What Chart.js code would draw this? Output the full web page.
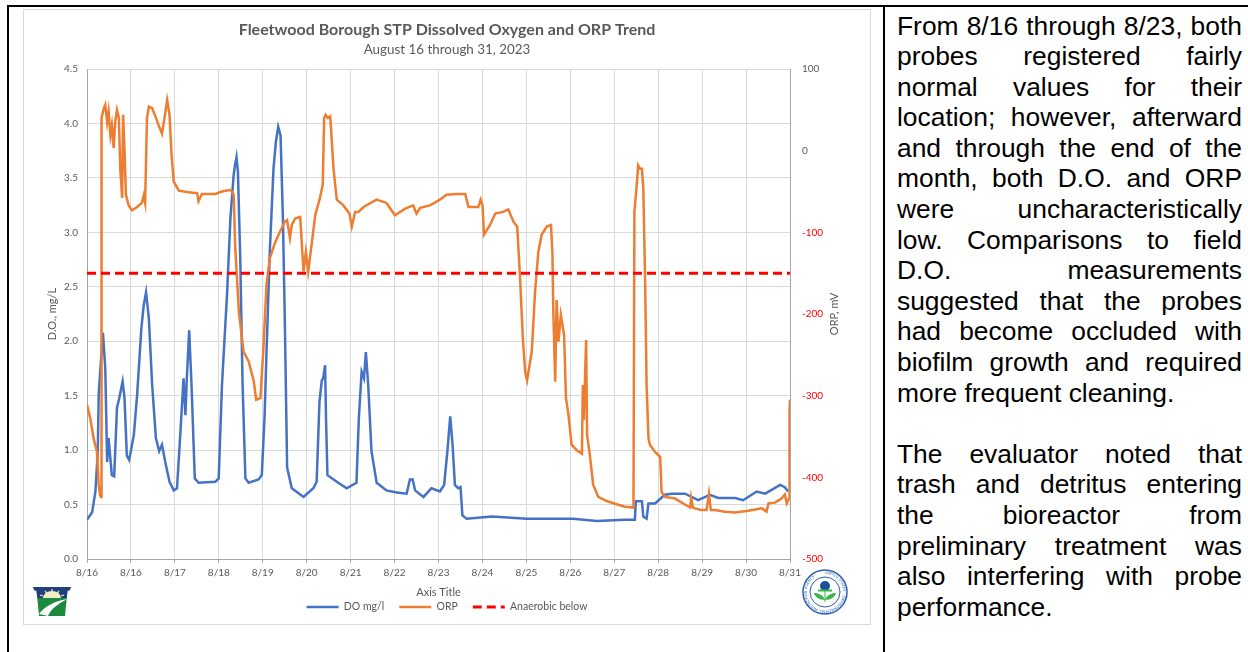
<!DOCTYPE html>
<html>
<head>
<meta charset="utf-8">
<title>Fleetwood Borough STP Dissolved Oxygen and ORP Trend</title>
<script src="https://cdn.jsdelivr.net/npm/chart.js@4.4.1/dist/chart.umd.min.js"></script>
<style>
  html, body { margin: 0; padding: 0; background: #fff; }
  body { width: 1248px; height: 652px; position: relative; overflow: hidden; }
  .rule { position: absolute; background: #000; }
  #chart-frame { position: absolute; left: 23px; top: 9px; width: 848px; height: 616px; box-sizing: border-box; border: 1px solid #d9d9d9; }
  #chart-wrap { position: absolute; left: 23px; top: 9px; width: 848px; height: 616px; }
  .logo { position: absolute; }
  #notes { position: absolute; left: 897px; top: 10.5px; width: 345px; font-family: 'Liberation Sans', Arial, sans-serif; font-size: 26.4px; line-height: 30.6px; color: #000; }
  #notes div { text-align: justify; text-align-last: justify; }
  #notes div.end { text-align-last: left; }
  #notes div.gap { height: 30.6px; }
</style>
</head>
<body>
<div class="rule" style="left:7px;top:5px;width:1241px;height:2px"></div>
<div class="rule" style="left:7px;top:5px;width:2px;height:647px"></div>
<div class="rule" style="left:883px;top:5px;width:2px;height:647px"></div>

<div id="chart-frame"></div>
<div id="chart-wrap"><canvas id="chart-do"></canvas></div>

<!-- PA DEP keystone -->
<svg class="logo" style="left:33px;top:587px" width="38" height="29" viewBox="0 0 38 29">
  <defs><clipPath id="ks"><path d="M0 0H38L36.5 3.5H34.5L32 29H6L3.5 3.5H1.5Z"/></clipPath></defs>
  <g clip-path="url(#ks)">
    <rect width="38" height="29" fill="#1b8a3c"/>
    <rect width="38" height="11" fill="#1f3f7d"/>
    <path d="M10 11 A9 7 0 0 1 28 11 Z" fill="#f3efc4"/>
    <path d="M19 2V6M12 4L14.5 7M26 4L23.5 7M7 8L10 9M31 8L28 9" stroke="#f3efc4" stroke-width="1.2"/>
    <path d="M6 27C11 20 21 14 34 12C25 17 18 22 15 29Z" fill="#fff"/>
  </g>
</svg>

<!-- EPA seal -->
<svg class="logo" style="left:802px;top:569px" width="46" height="46" viewBox="0 0 46 46">
  <circle cx="23" cy="23" r="22" fill="#fff" stroke="#2b5fae" stroke-width="1.5"/>
  <circle cx="23" cy="23" r="15" fill="#fff" stroke="#2b5fae" stroke-width="1"/>
  <path id="ring" d="M23 4.8a18.2 18.2 0 1 1-0.01 0" fill="none"/>
  <text font-size="3.6" fill="#2b5fae" font-family="DejaVu Sans"><textPath href="#ring">UNITED STATES · ENVIRONMENTAL PROTECTION AGENCY ·</textPath></text>
  <circle cx="23" cy="17" r="5" fill="#1e4f9c"/>
  <rect x="16" y="20.5" width="14" height="2" fill="#3ab54a"/>
  <path d="M23 31C17 31 13 28 12 24C17 24 21 26 23 31Z" fill="#3ab54a"/>
  <path d="M23 31C29 31 33 28 34 24C29 24 25 26 23 31Z" fill="#3ab54a"/>
  <path d="M23 22V33" stroke="#3ab54a" stroke-width="1"/>
</svg>

<div id="notes">
  <div>From 8/16 through 8/23, both</div>
  <div>probes registered fairly</div>
  <div>normal values for their</div>
  <div>location; however, afterward</div>
  <div>and through the end of the</div>
  <div>month, both D.O. and ORP</div>
  <div>were uncharacteristically</div>
  <div>low.  Comparisons to field</div>
  <div>D.O. measurements</div>
  <div>suggested that the probes</div>
  <div>had become occluded with</div>
  <div>biofilm growth and required</div>
  <div class="end">more frequent cleaning.</div>
  <div class="gap"></div>
  <div>The evaluator noted that</div>
  <div>trash and detritus entering</div>
  <div>the bioreactor from</div>
  <div>preliminary treatment was</div>
  <div>also interfering with probe</div>
  <div class="end">performance.</div>
</div>

<script>
  // x values are days after 8/16 00:00
  const xTickLabels = ['8/16', '8/16', '8/17', '8/18', '8/19', '8/20', '8/21', '8/22', '8/23',
    '8/24', '8/25', '8/26', '8/27', '8/28', '8/29', '8/30', '8/31'];

  const doDays = [0, 0.11, 0.18, 0.23, 0.25, 0.34, 0.39, 0.43, 0.46, 0.53,
    0.58, 0.64, 0.69, 0.76, 0.80, 0.85, 0.90, 1.00, 1.07, 1.16,
    1.21, 1.26, 1.32, 1.39, 1.47, 1.54, 1.60, 1.67, 1.76, 1.85,
    1.92, 1.99, 2.06, 2.10, 2.13, 2.18, 2.23, 2.30, 2.38, 2.74,
    2.81, 2.88, 2.99, 3.06, 3.13, 3.16, 3.19, 3.22, 3.27, 3.32,
    3.38, 3.45, 3.66, 3.73, 3.79, 3.83, 3.90, 3.98, 4.03, 4.08,
    4.13, 4.18, 4.22, 4.27, 4.37, 4.62, 4.83, 4.90, 4.96, 5.01,
    5.04, 5.08, 5.10, 5.13, 5.33, 5.54, 5.75, 5.80, 5.86, 5.91,
    5.95, 6.00, 6.07, 6.18, 6.39, 6.61, 6.82, 6.89, 6.95, 7.00,
    7.18, 7.35, 7.53, 7.62, 7.69, 7.75, 7.80, 7.85, 7.92, 7.97,
    8.01, 8.10, 8.64, 9.38, 10.37, 10.88, 11.48, 11.69, 11.71, 11.84,
    11.87, 11.94, 11.98, 12.12, 12.33, 12.48, 12.76, 13.04, 13.29, 13.47,
    13.83, 14.00, 14.29, 14.47, 14.79, 14.89, 14.96];
  const doValues = [0.36, 0.43, 0.62, 0.99, 1.52, 2.08, 1.75, 0.89, 1.11, 0.77,
    0.76, 1.39, 1.48, 1.63, 1.48, 0.95, 0.91, 1.14, 1.51, 2.12,
    2.33, 2.45, 2.21, 1.60, 1.11, 0.99, 1.05, 0.89, 0.71, 0.63,
    0.65, 1.14, 1.66, 1.32, 1.66, 2.10, 1.60, 0.74, 0.70, 0.71,
    0.74, 1.60, 2.45, 3.13, 3.53, 3.62, 3.69, 3.56, 2.76, 1.60,
    0.74, 0.70, 0.73, 0.77, 1.32, 1.90, 2.82, 3.59, 3.83, 3.97,
    3.89, 3.13, 2.21, 0.84, 0.65, 0.57, 0.65, 0.71, 1.44, 1.64,
    1.66, 1.78, 1.29, 0.77, 0.71, 0.65, 0.70, 1.29, 1.72, 1.66,
    1.90, 1.60, 0.99, 0.70, 0.63, 0.61, 0.60, 0.73, 0.73, 0.63,
    0.57, 0.65, 0.62, 0.68, 0.99, 1.31, 1.05, 0.68, 0.65, 0.66,
    0.40, 0.37, 0.39, 0.37, 0.37, 0.35, 0.36, 0.36, 0.53, 0.53,
    0.39, 0.37, 0.51, 0.51, 0.59, 0.60, 0.60, 0.54, 0.59, 0.56,
    0.56, 0.54, 0.62, 0.60, 0.68, 0.66, 0.62];

  const orpDays = [0.00, 0.07, 0.14, 0.21, 0.25, 0.28, 0.30, 0.31, 0.36, 0.39,
    0.43, 0.46, 0.50, 0.53, 0.57, 0.60, 0.64, 0.68, 0.71, 0.75,
    0.77, 0.80, 0.83, 0.89, 0.96, 1.07, 1.17, 1.21, 1.24, 1.28,
    1.32, 1.39, 1.46, 1.53, 1.60, 1.64, 1.71, 1.76, 1.80, 1.85,
    1.96, 2.17, 2.35, 2.38, 2.45, 2.74, 2.88, 3.06, 3.13, 3.16,
    3.24, 3.34, 3.45, 3.56, 3.61, 3.70, 3.76, 3.83, 3.90, 4.01,
    4.12, 4.22, 4.27, 4.33, 4.37, 4.44, 4.55, 4.58, 4.62, 4.67,
    4.72, 4.79, 4.87, 4.97, 5.03, 5.06, 5.09, 5.14, 5.19, 5.26,
    5.33, 5.47, 5.60, 5.65, 5.72, 5.79, 5.90, 6.18, 6.39, 6.57,
    6.79, 6.96, 7.03, 7.11, 7.32, 7.53, 7.67, 7.89, 8.07, 8.14,
    8.35, 8.40, 8.44, 8.47, 8.60, 8.71, 8.88, 8.99, 9.10, 9.18,
    9.24, 9.30, 9.35, 9.39, 9.49, 9.56, 9.63, 9.70, 9.81, 9.90,
    9.93, 9.95, 9.99, 10.02, 10.06, 10.11, 10.18, 10.22, 10.27, 10.34,
    10.45, 10.56, 10.58, 10.60, 10.65, 10.67, 10.73, 10.80, 10.91, 11.09,
    11.30, 11.48, 11.66, 11.68, 11.73, 11.76, 11.80, 11.84, 11.87, 11.91,
    11.94, 11.98, 12.01, 12.12, 12.23, 12.26, 12.33, 12.55, 12.72, 12.87,
    12.89, 12.93, 12.97, 13.10, 13.22, 13.27, 13.31, 13.40, 13.61, 13.83,
    14.11, 14.40, 14.50, 14.54, 14.68, 14.82, 14.89, 14.93, 14.98, 14.99,
    15.00];
  const orpValues = [-311, -328, -352, -368, -409, -422, -424, 40, 52, 56,
    35, 48, 19, 31, 3, 35, 50, 40, -22, -58,
    44, 1, -54, -67, -73, -69, -64, -55, -64, 40,
    54, 52, 42, 31, 21, 35, 62, 44, -1, -38,
    -49, -51, -52, -62, -53, -53, -50, -48, -54, -115,
    -197, -246, -258, -283, -305, -303, -246, -164, -132, -113,
    -99, -87, -85, -107, -91, -83, -81, -111, -148, -124,
    -148, -116, -79, -58, -42, 40, 44, 40, 42, -22,
    -60, -67, -77, -93, -75, -75, -69, -60, -64, -79,
    -71, -67, -77, -70, -67, -60, -54, -53, -53, -69,
    -69, -60, -67, -103, -91, -77, -75, -72, -87, -93,
    -156, -230, -271, -281, -246, -173, -124, -103, -93, -91,
    -124, -197, -283, -183, -234, -201, -226, -303, -322, -360,
    -367, -371, -287, -330, -232, -348, -373, -409, -424, -429,
    -433, -436, -437, -75, -42, -18, -22, -22, -46, -164,
    -287, -352, -360, -369, -375, -418, -424, -426, -432, -437,
    -425, -437, -438, -440, -440, -420, -440, -440, -442, -443,
    -441, -438, -442, -432, -431, -426, -421, -432, -426, -320,
    -305];

  const anaerobicDays = [0, 15];
  const anaerobicValues = [-150, -150];

  const toPoints = (xs, ys) => xs.map((x, i) => ({ x: x, y: ys[i] }));

  Chart.defaults.font.family = 'Lato';
  Chart.defaults.color = '#595959';

  // Excel draws the right axis title bottom-to-top, Chart.js does it the other way
  const rightAxisTitle = {
    id: 'rightAxisTitle',
    afterDraw(chart) {
      const s = chart.scales.y1;
      const c = chart.ctx;
      c.save();
      c.translate(s.right - 37, (s.top + s.bottom) / 2);
      c.rotate(-Math.PI / 2);
      c.font = '11px Lato';
      c.fillStyle = '#595959';
      c.textAlign = 'center';
      c.textBaseline = 'middle';
      c.fillText('ORP, mV', 0, 0);
      c.restore();
    }
  };

  // legend samples should look like the series lines (width + dash)
  const lineLegendLabels = (chart) =>
    Chart.defaults.plugins.legend.labels.generateLabels(chart).map((item) => {
      const ds = chart.data.datasets[item.datasetIndex];
      item.strokeStyle = ds.borderColor;
      item.lineWidth = ds.borderWidth;
      item.lineDash = ds.borderDash || [];
      return item;
    });

  const ctx = document.getElementById('chart-do').getContext('2d');
  new Chart(ctx, {
    type: 'line',
    data: {
      datasets: [{
        label: 'DO mg/l',
        data: toPoints(doDays, doValues),
        yAxisID: 'y',
        borderColor: '#4472c4',
        backgroundColor: '#4472c4',
        borderWidth: 2.5,
        pointRadius: 0,
        pointStyle: 'line',
        tension: 0,
        order: 3
      }, {
        label: 'ORP',
        data: toPoints(orpDays, orpValues),
        yAxisID: 'y1',
        borderColor: '#ed7d31',
        backgroundColor: '#ed7d31',
        borderWidth: 2.5,
        pointRadius: 0,
        pointStyle: 'line',
        tension: 0,
        order: 2
      }, {
        label: 'Anaerobic below',
        data: toPoints(anaerobicDays, anaerobicValues),
        yAxisID: 'y1',
        borderColor: '#ff0000',
        backgroundColor: '#ff0000',
        borderWidth: 3,
        borderDash: [9, 5],
        pointRadius: 0,
        pointStyle: 'line',
        order: 1
      }]
    },
    options: {
      responsive: true,
      maintainAspectRatio: false,
      animation: false,
      layout: { padding: { top: 0, right: 0, bottom: 2.75, left: 0 } },
      plugins: {
        title: {
          display: true,
          text: 'Fleetwood Borough STP Dissolved Oxygen and ORP Trend',
          color: '#595959',
          font: { size: 16, weight: 'bold' },
          padding: { top: 11.4, bottom: 0 }
        },
        subtitle: {
          display: true,
          text: 'August 16 through 31, 2023',
          color: '#595959',
          font: { size: 13.4 },
          padding: { top: 1.56, bottom: 11.76 }
        },
        legend: {
          position: 'bottom',
          labels: {
            usePointStyle: true,
            pointStyleWidth: 32,
            padding: 15,
            color: '#595959',
            font: { size: 10.5 },
            generateLabels: lineLegendLabels,
            sort: (a, b) => a.datasetIndex - b.datasetIndex
          }
        },
        tooltip: { enabled: false }
      },
      scales: {
        x: {
          type: 'linear',
          min: 0,
          max: 15,
          afterFit: (scale) => { scale.height = 27.75; },
          ticks: {
            stepSize: 15 / 16,
            autoSkip: false,
            maxRotation: 0,
            padding: 4,
            font: { size: 10 },
            color: '#595959',
            callback: (value, index) => xTickLabels[index]
          },
          grid: { color: '#d9d9d9', tickColor: '#a6a6a6', tickLength: 4 },
          border: { color: '#a6a6a6' },
          title: { display: true, text: 'Axis Title', color: '#595959', font: { size: 11 }, padding: { top: 0, bottom: -12.35 } }
        },
        y: {
          position: 'left',
          min: 0,
          max: 4.5,
          afterFit: (scale) => { scale.width = 64; },
          ticks: { stepSize: 0.5, padding: 9, font: { size: 10 }, color: '#595959', callback: (v) => v.toFixed(1) },
          grid: { color: '#d9d9d9', drawTicks: false },
          border: { color: '#a6a6a6' },
          title: { display: true, text: 'D.O., mg/L', color: '#595959', font: { size: 11 }, padding: { top: 22.4, bottom: 0 } }
        },
        y1: {
          position: 'right',
          min: -500,
          max: 100,
          afterFit: (scale) => { scale.width = 81; },
          ticks: {
            stepSize: 100,
            padding: 12,
            font: { size: 10 },
            color: (c) => (c.tick && c.tick.value < 0 ? '#ff0000' : '#595959')
          },
          grid: { display: false, drawTicks: false },
          border: { color: '#a6a6a6' }
        }
      }
    },
    plugins: [rightAxisTitle]
  });
</script>
</body>
</html>
